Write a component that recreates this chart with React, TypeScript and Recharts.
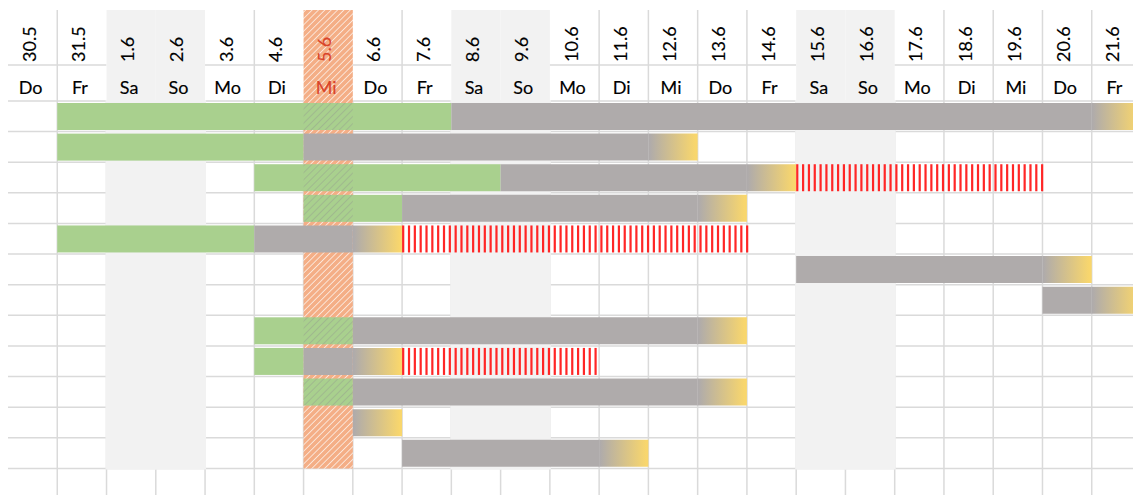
import { Bar, BarChart, CartesianGrid, ReferenceArea, XAxis, YAxis } from "recharts";

// header: dates and weekday names (columns)
const dates = [
  "30.5", "31.5", "1.6", "2.6", "3.6", "4.6", "5.6", "6.6", "7.6", "8.6", "9.6", "10.6",
  "11.6", "12.6", "13.6", "14.6", "15.6", "16.6", "17.6", "18.6", "19.6", "20.6", "21.6",
];
const weekdays = [
  "Do", "Fr", "Sa", "So", "Mo", "Di", "Mi", "Do", "Fr", "Sa", "So", "Mo",
  "Di", "Mi", "Do", "Fr", "Sa", "So", "Mo", "Di", "Mi", "Do", "Fr",
];
const todayIndex = 6;

// rows (tasks) - values in days, counted from the first column
const tasks = ["T1", "T2", "T3", "T4", "T5", "T6", "T7", "T8", "T9", "T10", "T11", "T12"];
const startDay = [1, 1, 5, 6, 1, 16, 21, 5, 5, 6, 7, 8];
const doneDays = [8, 5, 5, 2, 4, 0, 0, 2, 1, 1, 0, 0];
const openDays = [13, 7, 5, 6, 2, 5, 1, 7, 1, 7, 0, 4];
const finishDays = [1, 1, 1, 1, 1, 1, 1, 1, 1, 1, 1, 1];
const overdueDays = [0, 0, 5, 0, 7, 0, 0, 0, 4, 0, 0, 0];

const data = [
  ...tasks.map((task, i) => ({
    task,
    start: startDay[i],
    done: doneDays[i],
    open: openDays[i],
    finish: finishDays[i],
    overdue: overdueDays[i],
  })),
  // empty row below the last task
  { task: "pad", start: 0, done: 0, open: 0, finish: 0, overdue: 0 },
];

const W = 1133;
const H = 491;
const HEAD = 93;
const HEAD_TOP = 2;
const HEAD_MID = 57;
const colW = W / dates.length;
const STRIPE = 5.83;

const GREEN = "#A9D08E";
const GRAY = "#AFABAB";
const GRID = "#DADADA";
const WEEKEND = "#F2F2F2";
const FONT = "Lato, 'Open Sans', sans-serif";

const isWeekend = (i: number) => weekdays[i] === "Sa" || weekdays[i] === "So";
const isSpecial = (i: number) => isWeekend(i) || i === todayIndex;

const HeaderTick = (props: any) => {
  const { x, payload } = props;
  const i = Math.floor(payload.value);
  const left = x - colW / 2;
  const today = i === todayIndex;
  const color = today ? "#D9442A" : "#000";
  return (
    <g>
      {isWeekend(i) && (
        <rect x={left} y={HEAD_TOP} width={colW} height={HEAD - HEAD_TOP} fill={WEEKEND} />
      )}
      {today && (
        <rect x={left} y={HEAD_TOP} width={colW} height={HEAD - HEAD_TOP} fill="url(#todayHatch)" />
      )}
      {!isSpecial(i) && (
        <line x1={left} x2={left + colW} y1={HEAD_MID} y2={HEAD_MID} stroke={GRID} strokeWidth={1.5} />
      )}
      {i > 0 && !isSpecial(i) && !isSpecial(i - 1) && (
        <line x1={left} x2={left} y1={HEAD_TOP} y2={HEAD} stroke={GRID} strokeWidth={1.5} />
      )}
      <text
        transform={`translate(${x + 3},${HEAD_MID - 3}) rotate(-90)`}
        textAnchor="start"
        fontSize={18}
        fontFamily={FONT}
        fill={color}
        stroke={color}
        strokeWidth={0.15}
      >
        {dates[i]}
      </text>
      <text
        x={x - 2}
        y={86}
        textAnchor="middle"
        fontSize={18}
        fontFamily={FONT}
        fill={color}
        stroke={color}
        strokeWidth={0.15}
      >
        {weekdays[i]}
      </text>
    </g>
  );
};

// green part, with a hatch where it crosses today's column
const DoneShape = (props: any) => {
  const { x, y, width, height, payload } = props;
  if (!width || width <= 0 || !payload.done) return <g />;
  const unit = width / payload.done;
  const tx = x + (todayIndex - payload.start) * unit;
  const a = Math.max(x, tx);
  const b = Math.min(x + width, tx + unit);
  return (
    <g>
      <rect x={x} y={y} width={width} height={height} fill={GREEN} />
      {b > a && <rect x={a} y={y} width={b - a} height={height} fill="url(#doneHatch)" />}
    </g>
  );
};

// overdue part: red vertical stripes
const OverdueShape = (props: any) => {
  const { x, y, width, height } = props;
  if (!width || width <= 0) return <g />;
  const n = Math.floor(width / STRIPE) + 1;
  return (
    <g>
      {Array.from({ length: n }, (_, k) => (
        <rect key={k} x={x + k * STRIPE} y={y} width={2.2} height={height} fill="#FF2626" />
      ))}
    </g>
  );
};

const rowLines = ({ offset }: any) => {
  const top = offset?.top ?? HEAD;
  const h = offset?.height ?? H - HEAD;
  return Array.from({ length: data.length }, (_, i) => top + (i * h) / data.length);
};

const colLines = ({ offset }: any) => {
  const left = offset?.left ?? 0;
  const w = offset?.width ?? W;
  return Array.from({ length: dates.length - 1 }, (_, i) => left + ((i + 1) * w) / dates.length);
};

export default function App() {
  return (
    <div style={{ width: W, height: H }}>
      <BarChart
        width={W}
        height={H}
        data={data}
        layout="vertical"
        margin={{ top: 0, right: 0, bottom: 0, left: 0 }}
        barCategoryGap={2}
      >
        <defs>
          <linearGradient id="finishFade" x1="0" y1="0" x2="1" y2="0">
            <stop offset="0.02" stopColor={GRAY} />
            <stop offset="0.95" stopColor="#F8D66D" />
          </linearGradient>
          <pattern id="todayHatch" width="4.5" height="4.5" patternUnits="userSpaceOnUse" patternTransform="rotate(45)">
            <rect width="4.5" height="4.5" fill="#F4AE86" />
            <line x1="0" y1="0" x2="0" y2="4.5" stroke="#FFFFFF" strokeWidth="1.3" />
          </pattern>
          <pattern id="doneHatch" width="5" height="5" patternUnits="userSpaceOnUse" patternTransform="rotate(45)">
            <line x1="0" y1="0" x2="0" y2="5" stroke="#8E8E8E" strokeOpacity="0.6" strokeWidth="1.2" />
          </pattern>
        </defs>
        <CartesianGrid
          stroke={GRID}
          strokeWidth={1.5}
          horizontalCoordinatesGenerator={rowLines}
          verticalCoordinatesGenerator={colLines}
        />
        <XAxis
          type="number"
          orientation="top"
          domain={[0, dates.length]}
          ticks={dates.map((_, i) => i + 0.5)}
          interval={0}
          height={HEAD}
          axisLine={false}
          tickLine={false}
          allowDataOverflow
          tick={(p: any) => <HeaderTick {...p} />}
        />
        <YAxis type="category" dataKey="task" hide width={0} />
        {dates.map((_, i) =>
          isWeekend(i) ? (
            <ReferenceArea
              key={`we${i}`}
              x1={i}
              x2={i + 1}
              y1={tasks[0]}
              y2={tasks[tasks.length - 1]}
              fill={WEEKEND}
              fillOpacity={1}
              stroke={WEEKEND}
              strokeWidth={2}
              ifOverflow="visible"
            />
          ) : null
        )}
        <ReferenceArea
          x1={todayIndex}
          x2={todayIndex + 1}
          y1={tasks[0]}
          y2={tasks[tasks.length - 1]}
          fill="url(#todayHatch)"
          fillOpacity={1}
          ifOverflow="visible"
        />
        <Bar dataKey="start" stackId="g" fill="transparent" isAnimationActive={false} />
        <Bar dataKey="done" stackId="g" fill={GREEN} shape={<DoneShape />} isAnimationActive={false} />
        <Bar dataKey="open" stackId="g" fill={GRAY} isAnimationActive={false} />
        <Bar dataKey="finish" stackId="g" fill="url(#finishFade)" isAnimationActive={false} />
        <Bar dataKey="overdue" stackId="g" fill="#FF2626" shape={<OverdueShape />} isAnimationActive={false} />
      </BarChart>
    </div>
  );
}
